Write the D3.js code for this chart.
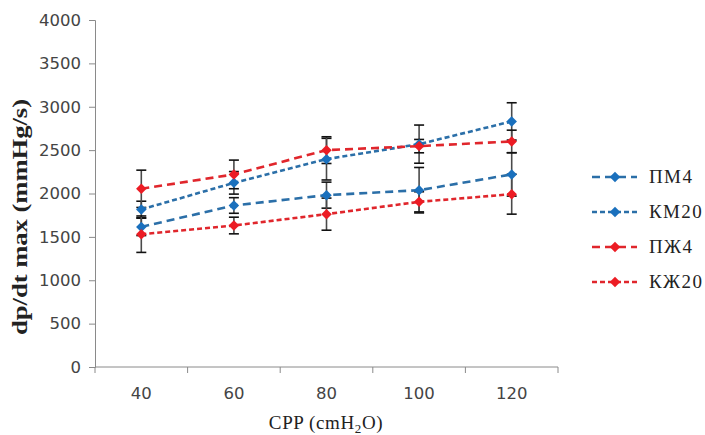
<!DOCTYPE html>
<html>
<head>
<meta charset="utf-8">
<script src="https://cdn.jsdelivr.net/npm/d3@7"></script>
<style>
  body { margin: 0; background: #fff; }
  svg { display: block; }
</style>
</head>
<body>
<div id="chart"></div>
<script>
// values
var categories = ["40", "60", "80", "100", "120"];
var yTicks = [0, 500, 1000, 1500, 2000, 2500, 3000, 3500, 4000];
var seriesNames = ["ПМ4", "КМ20", "ПЖ4", "КЖ20"];
var pm4 = [1615, 1862, 1981, 2038, 2220];
var km20 = [1816, 2123, 2396, 2569, 2831];
var pzh4 = [2054, 2220, 2500, 2546, 2600];
var kzh20 = [1531, 1631, 1762, 1904, 1992];
var pm4Err = [100, 90, 150, 262, 250];
var km20Err = [95, 130, 240, 220, 215];
var pzh4Err = [215, 165, 154, 77, 130];
var kzh20Err = [210, 96, 185, 116, 230];

var series = [
  {name: seriesNames[0], values: pm4, errs: pm4Err, line: "#2b6fa8", mark: "#1a70bd", dash: "8,5"},
  {name: seriesNames[1], values: km20, errs: km20Err, line: "#2b6fa8", mark: "#1a70bd", dash: "5,3"},
  {name: seriesNames[2], values: pzh4, errs: pzh4Err, line: "#e0262c", mark: "#ec1c24", dash: "8,5"},
  {name: seriesNames[3], values: kzh20, errs: kzh20Err, line: "#e0262c", mark: "#ec1c24", dash: "5,3"}
];

var width = 705, height = 435;
var svg = d3.select("#chart").append("svg")
  .attr("width", width)
  .attr("height", height);

var x = d3.scaleBand().domain(categories).range([95, 558]).padding(0);
var y = d3.scaleLinear().domain([0, 4000]).range([367, 20]);
var cx = function(c){ return x(c) + x.bandwidth() / 2; };
var tickFont = "'DejaVu Sans', Verdana, sans-serif";
var serif = "'Liberation Serif', 'Times New Roman', serif";

// y axis
var yAxis = d3.axisLeft(y).tickValues(yTicks).tickFormat(d3.format("d")).tickSize(6).tickPadding(8);
var gy = svg.append("g").attr("transform", "translate(95,0)").call(yAxis);
gy.select(".domain").attr("stroke", "#8a8a8a");
gy.selectAll(".tick line").attr("stroke", "#8a8a8a");
gy.selectAll(".tick text")
  .style("font-family", tickFont)
  .style("font-size", "16.5px")
  .attr("fill", "#444");

// x axis, ticks between categories like the original
svg.append("line")
  .attr("x1", x.range()[0]).attr("x2", x.range()[1])
  .attr("y1", y(0)).attr("y2", y(0))
  .attr("stroke", "#8a8a8a");
var bounds = categories.map(function(c){ return x(c); }).concat([x.range()[1]]);
svg.selectAll(".xtick").data(bounds).enter()
  .append("line")
  .attr("class", "xtick")
  .attr("x1", function(d){ return d; }).attr("x2", function(d){ return d; })
  .attr("y1", y(0)).attr("y2", y(0) + 6)
  .attr("stroke", "#8a8a8a");
svg.selectAll(".xlabel").data(categories).enter()
  .append("text")
  .attr("class", "xlabel")
  .attr("x", cx)
  .attr("y", 399)
  .attr("text-anchor", "middle")
  .attr("fill", "#444")
  .style("font-family", tickFont)
  .style("font-size", "16.5px")
  .text(function(d){ return d; });

// axis titles
var xt = svg.append("text")
  .attr("x", 326).attr("y", 429)
  .attr("text-anchor", "middle")
  .style("font-family", serif)
  .style("font-size", "19px")
  .style("letter-spacing", "0.6px")
  .attr("fill", "#222");
xt.append("tspan").text("CPP (cmH");
xt.append("tspan").text("2").attr("dy", 4).style("font-size", "13px");
xt.append("tspan").text("O)").attr("dy", -4);

svg.append("text")
  .attr("transform", "translate(27,217) rotate(-90)")
  .attr("text-anchor", "middle")
  .style("font-family", serif)
  .style("font-size", "20px")
  .style("font-weight", "bold")
  .attr("textLength", 236)
  .attr("lengthAdjust", "spacingAndGlyphs")
  .attr("fill", "#222")
  .text("dp/dt max (mmHg/s)");

// error bars
var diamond = d3.symbol().type(d3.symbolDiamond2).size(70);
series.forEach(function(s){
  var g = svg.append("g");
  categories.forEach(function(c, i){
    var px = cx(c), hi = y(s.values[i] + s.errs[i]), lo = y(s.values[i] - s.errs[i]);
    g.append("line").attr("x1", px).attr("x2", px).attr("y1", hi).attr("y2", lo)
      .attr("stroke", "#4a4a4a").attr("stroke-width", 1.6);
    [hi, lo].forEach(function(v){
      g.append("line").attr("x1", px - 5).attr("x2", px + 5).attr("y1", v).attr("y2", v)
        .attr("stroke", "#111").attr("stroke-width", 1.6);
    });
  });
});

// lines and markers
var line = d3.line().x(function(d, i){ return cx(categories[i]); }).y(function(d){ return y(d); });
series.forEach(function(s){
  svg.append("path")
    .datum(s.values)
    .attr("d", line)
    .attr("fill", "none")
    .attr("stroke", s.line)
    .attr("stroke-width", 2.6)
    .attr("stroke-dasharray", s.dash);
});
series.forEach(function(s){
  svg.selectAll(null).data(s.values).enter()
    .append("path")
    .attr("d", diamond)
    .attr("transform", function(d, i){ return "translate(" + cx(categories[i]) + "," + y(d) + ")"; })
    .attr("fill", s.mark);
});

// legend
var legend = svg.append("g");
series.forEach(function(s, i){
  var ly = 177 + i * 35;
  legend.append("line")
    .attr("x1", 592).attr("x2", 637).attr("y1", ly).attr("y2", ly)
    .attr("stroke", s.line).attr("stroke-width", 2.6)
    .attr("stroke-dasharray", s.dash);
  legend.append("path")
    .attr("d", diamond)
    .attr("transform", "translate(615," + ly + ")")
    .attr("fill", s.mark);
  legend.append("text")
    .attr("x", 649).attr("y", ly + 6)
    .style("font-family", serif)
    .style("font-size", "19px")
    .style("letter-spacing", "1.4px")
    .attr("fill", "#222")
    .text(s.name);
});
</script>
</body>
</html>
